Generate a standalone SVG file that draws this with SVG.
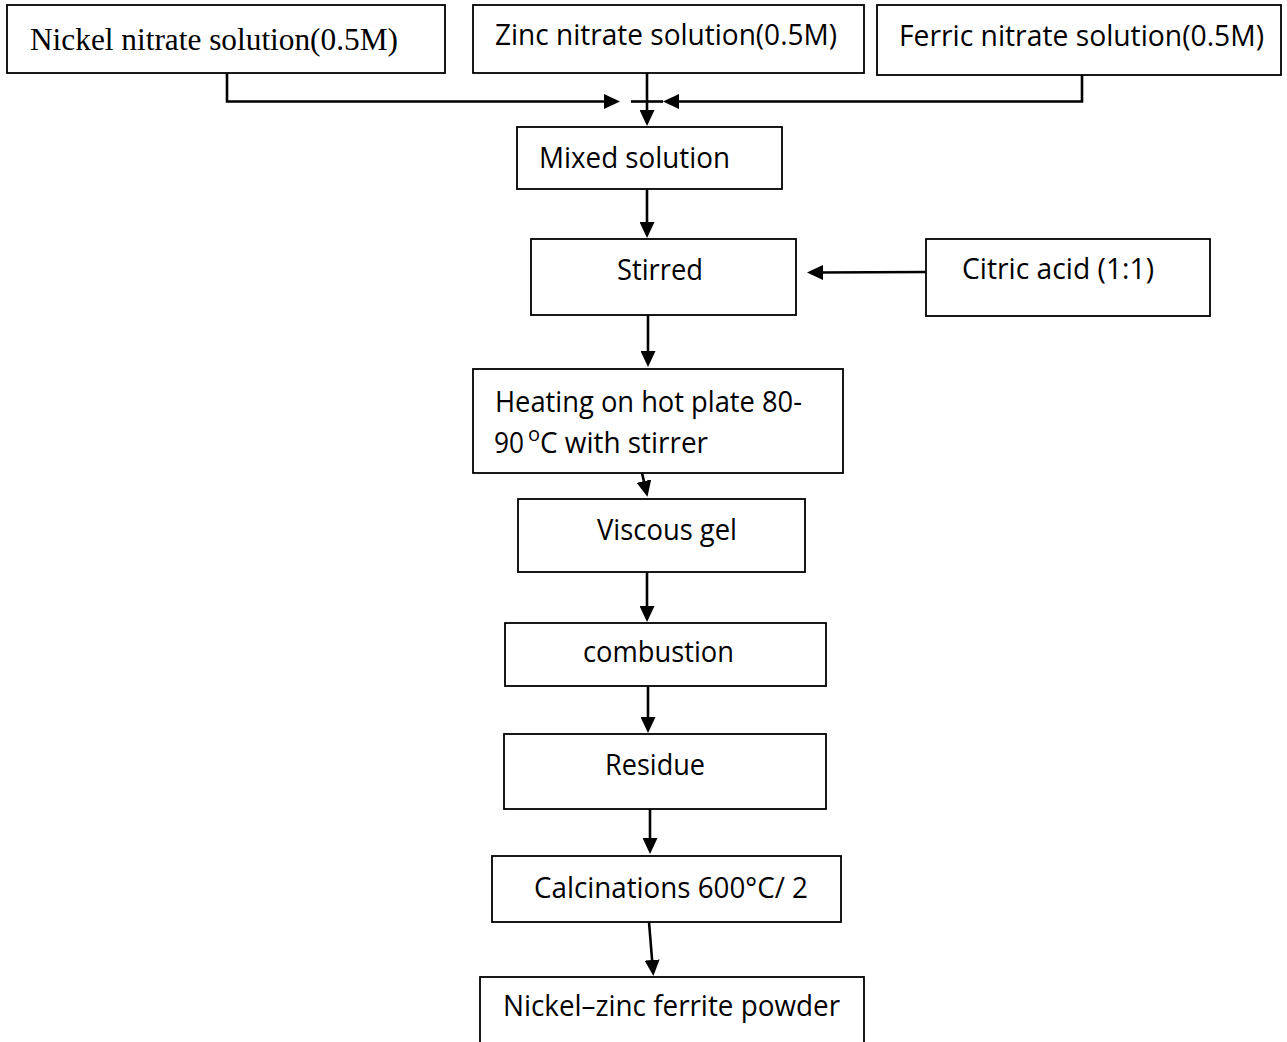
<svg xmlns="http://www.w3.org/2000/svg" width="1287" height="1042" viewBox="0 0 1287 1042">
<style>
.box{fill:#fff;stroke:#000;stroke-width:1.8}
.t{font-family:"Open Sans","Liberation Sans",sans-serif;font-size:28.5px;fill:#000}
.s{font-family:"Liberation Serif","Times New Roman",serif;font-size:31px;fill:#000}
.c{fill:none;stroke:#000;stroke-width:2.6}
</style>
<defs>
<marker id="ah" viewBox="0 0 16 15" refX="5" refY="7.5" markerWidth="16" markerHeight="15" markerUnits="userSpaceOnUse" orient="auto">
<path d="M0,0 L16,7.5 L0,15 Z" fill="#000"/>
</marker>
</defs>
<rect width="1287" height="1042" fill="#fff"/>
<g id="n-nickel"><rect class="box" x="7" y="5" width="438" height="68"/><text class="s" x="30" y="50" textLength="368" lengthAdjust="spacingAndGlyphs">Nickel nitrate solution(0.5M)</text></g>
<g id="n-zinc"><rect class="box" x="473" y="5" width="391" height="68"/><text class="t" x="495" y="45" textLength="342" lengthAdjust="spacingAndGlyphs">Zinc nitrate solution(0.5M)</text></g>
<g id="n-ferric"><rect class="box" x="877" y="5" width="404" height="70"/><text class="t" x="899" y="46" textLength="365" lengthAdjust="spacingAndGlyphs">Ferric nitrate solution(0.5M)</text></g>
<g id="n-mixed"><rect class="box" x="517" y="127" width="265" height="62"/><text class="t" x="539" y="168" textLength="191" lengthAdjust="spacingAndGlyphs">Mixed solution</text></g>
<g id="n-stirred"><rect class="box" x="531" y="239" width="265" height="76"/><text class="t" x="617" y="280" textLength="86" lengthAdjust="spacingAndGlyphs">Stirred</text></g>
<g id="n-citric"><rect class="box" x="926" y="239" width="284" height="77"/><text class="t" x="962" y="279" textLength="192" lengthAdjust="spacingAndGlyphs">Citric acid (1:1)</text></g>
<g id="n-heating"><rect class="box" x="473" y="369" width="370" height="104"/>
<text class="t" x="495" y="412" textLength="307" lengthAdjust="spacingAndGlyphs">Heating on hot plate 80-</text>
<text class="t" x="494" y="453" textLength="30" lengthAdjust="spacingAndGlyphs">90</text>
<text class="t" x="528" y="441" style="font-size:20px">o</text>
<text class="t" x="540" y="453" textLength="168" lengthAdjust="spacingAndGlyphs">C with stirrer</text></g>
<g id="n-viscous"><rect class="box" x="518" y="499" width="287" height="73"/><text class="t" x="597" y="540" textLength="140" lengthAdjust="spacingAndGlyphs">Viscous gel</text></g>
<g id="n-combustion"><rect class="box" x="505" y="623" width="321" height="63"/><text class="t" x="583" y="662" textLength="151" lengthAdjust="spacingAndGlyphs">combustion</text></g>
<g id="n-residue"><rect class="box" x="504" y="734" width="322" height="75"/><text class="t" x="605" y="775" textLength="100" lengthAdjust="spacingAndGlyphs">Residue</text></g>
<g id="n-calc"><rect class="box" x="492" y="856" width="349" height="66"/><text class="t" x="534" y="898" textLength="274" lengthAdjust="spacingAndGlyphs">Calcinations 600°C/ 2</text></g>
<g id="n-powder"><rect class="box" x="480" y="977" width="384" height="90"/><text class="t" x="503" y="1016" textLength="337" lengthAdjust="spacingAndGlyphs">Nickel–zinc ferrite powder</text></g>
<g id="connectors">
<polyline class="c" points="227,73 227,101.5 609,101.5" marker-end="url(#ah)"/>
<polyline class="c" points="1082,75 1082,101.5 674,101.5" marker-end="url(#ah)"/>
<line class="c" x1="631" y1="101.5" x2="663" y2="101.5"/>
<line class="c" x1="647" y1="73" x2="647" y2="115" marker-end="url(#ah)"/>
<line class="c" x1="647" y1="189" x2="647" y2="227" marker-end="url(#ah)"/>
<line class="c" x1="926" y1="272" x2="818" y2="272.5" marker-end="url(#ah)"/>
<line class="c" x1="648" y1="315" x2="648" y2="356" marker-end="url(#ah)"/>
<line class="c" x1="642" y1="473" x2="645" y2="486" marker-end="url(#ah)"/>
<line class="c" x1="647" y1="572" x2="647" y2="611" marker-end="url(#ah)"/>
<line class="c" x1="648" y1="686" x2="648" y2="722" marker-end="url(#ah)"/>
<line class="c" x1="650" y1="809" x2="650" y2="843" marker-end="url(#ah)"/>
<line class="c" x1="649" y1="922" x2="652.5" y2="965" marker-end="url(#ah)"/>
</g>
</svg>
